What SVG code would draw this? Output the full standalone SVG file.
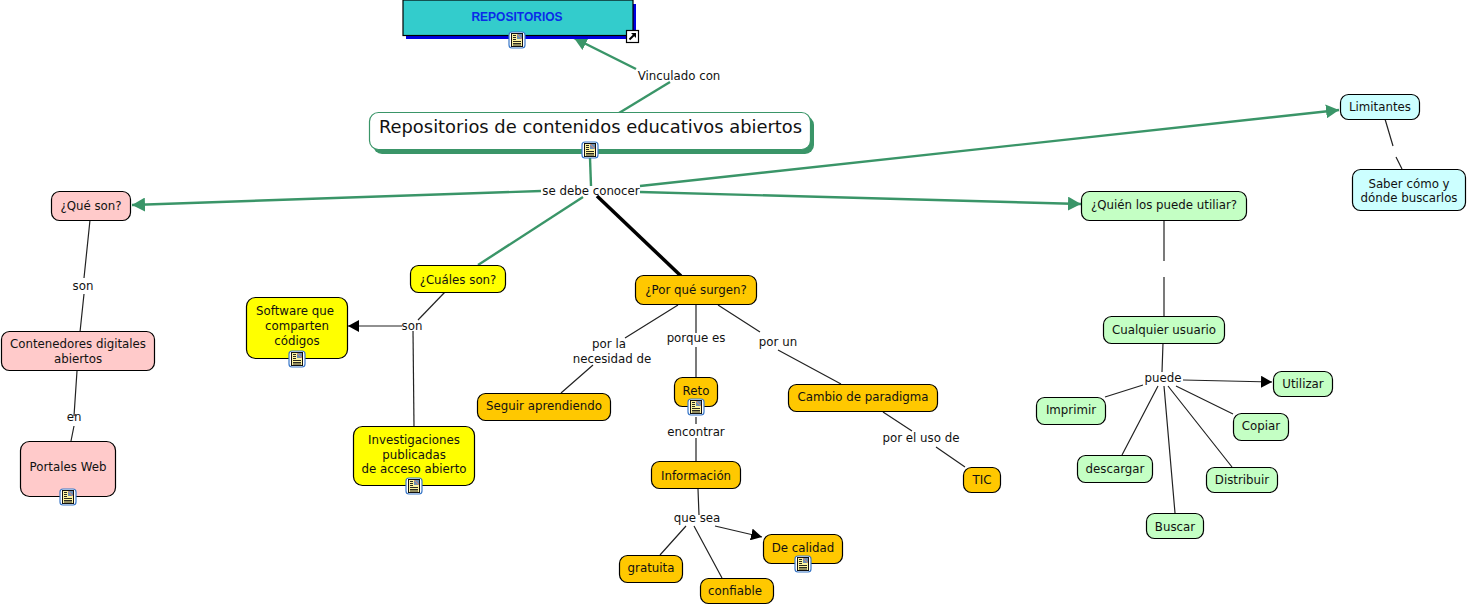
<svg xmlns="http://www.w3.org/2000/svg" width="1468" height="606" viewBox="0 0 1468 606">
<style>
text{font-family:"DejaVu Sans",Verdana,sans-serif;font-size:11.8px;fill:#111;text-anchor:middle}
.n{stroke:#000;stroke-width:1.2}
.pk{fill:#ffcaca}.yl{fill:#ffff00}.or{fill:#ffc800}.gr{fill:#c4ffc4}.cy{fill:#ccffff}
.c{fill:none;stroke:#222;stroke-width:1.2}
.g{fill:none;stroke:#3a9568;stroke-width:2.4}
</style>
<defs>
<marker id="ag" markerUnits="userSpaceOnUse" markerWidth="14" markerHeight="14" refX="13" refY="7" orient="auto"><path d="M0 0L13 7L0 14z" fill="#3a9568"/></marker>
<marker id="ak" markerUnits="userSpaceOnUse" markerWidth="12" markerHeight="12" refX="11" refY="6" orient="auto"><path d="M0 0L11 6L0 12z" fill="#000"/></marker>
<g id="ic">
<rect x="-8" y="-8" width="16" height="16" rx="3" fill="#fff" stroke="#3a78c8" stroke-width="1.200"/>
<rect x="-5.500" y="-6.500" width="11" height="13" fill="#fdf3a0" stroke="#111" stroke-width="1"/>
<rect x="0" y="-6" width="5" height="5" fill="#6f8fb5"/>
<path d="M0-6l5 5" stroke="#d98a6a" stroke-width="1" fill="none"/>
<path d="M-4-4.500h3M-4-2.500h3M-4-.500h3M-4 1.500h8M-4 3.500h8M-4 5h8" stroke="#111" stroke-width=".9" fill="none"/>
</g>
</defs>

<g id="connectors">
<path class="g" d="M619 113L670 82"/>
<path class="g" d="M636 69L574 38" marker-end="url(#ag)"/>
<path class="g" d="M590 158L591 186"/>
<path class="g" d="M541 191L132 205" marker-end="url(#ag)"/>
<path class="g" d="M640 186L1339 110" marker-end="url(#ag)"/>
<path class="g" d="M640 192L1081 204" marker-end="url(#ag)"/>
<path class="g" d="M583 197L478 265" stroke-width="2"/>
<path d="M597 196L681 276" fill="none" stroke="#000" stroke-width="3.500"/>
<path class="c" d="M90 220L84 278M84 294L80 332M77 371L74 416M74 426L71 441"/>
<path class="c" d="M445 292L418 320"/>
<path class="c" d="M402 326H348" marker-end="url(#ak)"/>
<path class="c" d="M413 331L414 427"/>
<path class="c" d="M678 305L625 338M593 365L561 393"/>
<path class="c" d="M696 305V333M696 347V377M696 417V424M696 438V461"/>
<path class="c" d="M718 305L760 332M778 350L841 384"/>
<path class="c" d="M883 412L912 431M936 447L965 467"/>
<path class="c" d="M698 489L699 515M686 526L660 555M694 526L722 578"/>
<path class="c" d="M715 526L762 537" marker-end="url(#ak)"/>
<path class="c" d="M1164 220L1164 261M1164 277L1164 317"/>
<path class="c" d="M1163 343L1162 372M1105 397L1143 385M1158 386L1122 455M1164 386L1175 513M1168 386L1232 467M1176 386L1233 414"/>
<path class="c" d="M1183 380L1272 382" marker-end="url(#ak)"/>
<path class="c" d="M1385 119L1393 146M1396 157L1402 169"/>
</g>

<g id="n-repositorios">
<rect x="406" y="4" width="230" height="35" fill="#0000e0"/>
<rect x="403" y="0" width="230" height="35.500" fill="#33cccc" stroke="#000" stroke-width="1.200"/>
<text x="517" y="21" style="font-family:'Liberation Sans',Arial,sans-serif;font-weight:bold;font-size:12px;fill:#0a2be8">REPOSITORIOS</text>
<use href="#ic" x="517" y="40"/>
<rect x="626.500" y="30.500" width="12" height="12" fill="#fff" stroke="#000" stroke-width="1.200"/>
<path d="M629.500 39.500L634 35" stroke="#000" stroke-width="2" fill="none"/>
<path d="M631 33H636V38z" fill="#000"/>
</g>
<g id="n-main">
<rect x="373" y="116" width="441" height="38" rx="9" fill="#3a9568"/>
<rect x="369.500" y="112.500" width="441" height="37" rx="9" fill="#fff" stroke="#3a9568" stroke-width="1.200"/>
<text x="590.500" y="133" style="font-size:17.900px">Repositorios de contenidos educativos abiertos</text>
<use href="#ic" x="590" y="150"/>
</g>

<g id="n-que"><rect class="n pk" x="51.500" y="191.500" width="79" height="29" rx="8"/><text x="91" y="210">¿Qué son?</text></g>
<g id="n-contenedores"><rect class="n pk" x="1.500" y="331.500" width="153" height="39" rx="8"/><text x="78" y="348">Contenedores digitales</text><text x="78" y="363">abiertos</text></g>
<g id="n-portales"><rect class="n pk" x="20.500" y="441.500" width="95" height="55" rx="9"/><text x="68" y="471">Portales Web</text><use href="#ic" x="68" y="497"/></g>

<g id="n-cuales"><rect class="n yl" x="410.500" y="265.500" width="95" height="27" rx="8"/><text x="458" y="284">¿Cuáles son?</text></g>
<g id="n-software"><rect class="n yl" x="246.500" y="297.500" width="101" height="61" rx="9"/><text x="295" y="315">Software que</text><text x="297" y="330">comparten</text><text x="297" y="345">códigos</text><use href="#ic" x="297" y="359"/></g>
<g id="n-invest"><rect class="n yl" x="353.500" y="426.500" width="121" height="59" rx="9"/><text x="414" y="444">Investigaciones</text><text x="414" y="459">publicadas</text><text x="414" y="473">de acceso abierto</text><use href="#ic" x="414" y="486"/></g>

<g id="n-porque"><rect class="n or" x="635.500" y="275.500" width="121" height="29" rx="8"/><text x="696" y="294">¿Por qué surgen?</text></g>
<g id="n-seguir"><rect class="n or" x="477.500" y="393.500" width="133" height="27" rx="8"/><text x="544" y="410">Seguir aprendiendo</text></g>
<g id="n-reto"><rect class="n or" x="674.500" y="377.500" width="43" height="29" rx="8"/><text x="696" y="395">Reto</text><use href="#ic" x="696" y="407"/></g>
<g id="n-cambio"><rect class="n or" x="788.500" y="384.500" width="149" height="27" rx="8"/><text x="863" y="401">Cambio de paradigma</text></g>
<g id="n-tic"><rect class="n or" x="963.500" y="467.500" width="37" height="25" rx="8"/><text x="982" y="484">TIC</text></g>
<g id="n-info"><rect class="n or" x="651.500" y="461.500" width="89" height="27" rx="8"/><text x="696" y="480">Información</text></g>
<g id="n-calidad"><rect class="n or" x="763.500" y="534.500" width="79" height="29" rx="8"/><text x="803" y="552">De calidad</text><use href="#ic" x="803" y="564"/></g>
<g id="n-gratuita"><rect class="n or" x="619.500" y="555.500" width="63" height="27" rx="8"/><text x="651" y="572">gratuita</text></g>
<g id="n-confiable"><rect class="n or" x="700.500" y="578.500" width="73" height="25" rx="8"/><text x="735" y="595">confiable</text></g>

<g id="n-quien"><rect class="n gr" x="1081.500" y="191.500" width="165" height="29" rx="8"/><text x="1164" y="209">¿Quién los puede utiliar?</text></g>
<g id="n-cualquier"><rect class="n gr" x="1103.500" y="316.500" width="121" height="27" rx="8"/><text x="1164" y="334">Cualquier usuario</text></g>
<g id="n-utilizar"><rect class="n gr" x="1273.500" y="371.500" width="59" height="25" rx="8"/><text x="1303" y="388">Utilizar</text></g>
<g id="n-imprimir"><rect class="n gr" x="1036.500" y="397.500" width="69" height="27" rx="8"/><text x="1071" y="414">Imprimir</text></g>
<g id="n-copiar"><rect class="n gr" x="1233.500" y="413.500" width="55" height="27" rx="8"/><text x="1261" y="430">Copiar</text></g>
<g id="n-descargar"><rect class="n gr" x="1077.500" y="455.500" width="75" height="27" rx="8"/><text x="1115" y="473">descargar</text></g>
<g id="n-distribuir"><rect class="n gr" x="1206.500" y="467.500" width="71" height="25" rx="8"/><text x="1242" y="484">Distribuir</text></g>
<g id="n-buscar"><rect class="n gr" x="1146.500" y="513.500" width="57" height="25" rx="8"/><text x="1175" y="531">Buscar</text></g>
<g id="n-limitantes"><rect class="n cy" x="1340.500" y="94.500" width="79" height="25" rx="8"/><text x="1380" y="111">Limitantes</text></g>
<g id="n-saber"><rect class="n cy" x="1352.500" y="169.500" width="113" height="41" rx="8"/><text x="1409" y="188">Saber cómo y</text><text x="1409" y="202">dónde buscarlos</text></g>

<g id="labels">
<text x="679" y="80">Vinculado con</text>
<text x="591" y="195">se debe conocer</text>
<text x="83" y="290">son</text>
<text x="74" y="421">en</text>
<text x="412" y="330">son</text>
<text x="609" y="348">por la</text>
<text x="612" y="363">necesidad de</text>
<text x="696" y="342">porque es</text>
<text x="778" y="346">por un</text>
<text x="696" y="436">encontrar</text>
<text x="921" y="442">por el uso de</text>
<text x="697" y="522">que sea</text>
<text x="1163" y="382">puede</text>
</g>
</svg>
